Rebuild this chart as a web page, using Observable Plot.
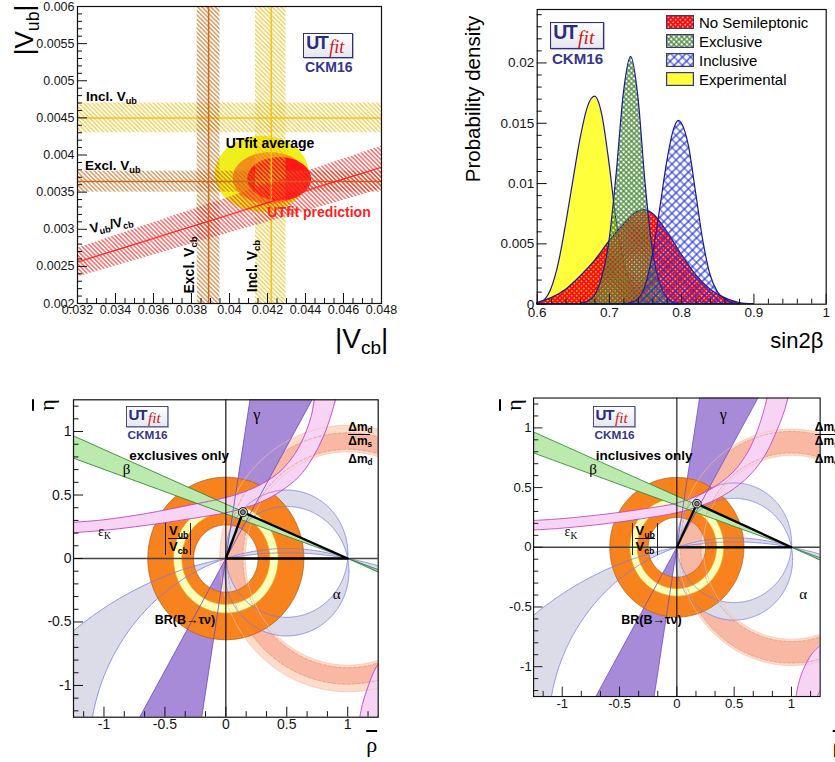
<!DOCTYPE html>
<html><head><meta charset="utf-8">
<script src="https://cdn.jsdelivr.net/npm/d3@7"></script>
<script src="https://cdn.jsdelivr.net/npm/@observablehq/plot@0.6"></script>
<style>
html,body{margin:0;padding:0;background:#fff;}
body{width:835px;height:762px;overflow:hidden;position:relative;font-family:"Liberation Sans",Arial,Helvetica,sans-serif;}
.panel{position:absolute;}
.lbl{position:absolute;white-space:nowrap;line-height:1;}
.sb{font-size:0.68em;position:relative;top:0.32em;}
svg path{fill-rule:evenodd;}
.logo{position:absolute;width:52px;height:44px;transform-origin:0 0;}
.logo .box{position:absolute;left:0;top:0;width:48px;height:23px;border:1.5px solid #2e2e7a;background:linear-gradient(#ffffff,#e6e6ef);box-shadow:1px 1px 0 #b8b8c8;overflow:hidden;}
.logo .ut{position:absolute;left:2px;top:0px;font:bold 18px "Liberation Sans",Arial,sans-serif;color:#2b2b86;letter-spacing:-1.5px;line-height:1;}
.logo .fit{position:absolute;left:25px;top:4px;font:italic 18px "Liberation Serif","DejaVu Serif",serif;color:#d01818;line-height:1;}
.logo .ckm{position:absolute;left:-2px;top:27px;width:55px;text-align:center;font:bold 14px "Liberation Sans",Arial,sans-serif;color:#35358c;line-height:1;}
.frac{position:absolute;font-weight:bold;line-height:1;}
</style></head><body>
<svg width="0" height="0" style="position:absolute;left:0;top:0">
<defs>
<pattern id="hExcl" width="3.1" height="3.1" patternUnits="userSpaceOnUse" patternTransform="rotate(-45)"><line x1="1.55" y1="-1" x2="1.55" y2="4.1" stroke="#d06a16" stroke-width="1"/></pattern>
<pattern id="hIncl" width="3.1" height="3.1" patternUnits="userSpaceOnUse" patternTransform="rotate(-45)"><line x1="1.55" y1="-1" x2="1.55" y2="4.1" stroke="#f3bf16" stroke-width="1"/></pattern>
<pattern id="hRatio" width="3.1" height="3.1" patternUnits="userSpaceOnUse" patternTransform="rotate(-45)"><line x1="1.55" y1="-1" x2="1.55" y2="4.1" stroke="#ff2424" stroke-width="1"/></pattern>
<pattern id="xRed" width="3.4" height="3.4" patternUnits="userSpaceOnUse" patternTransform="rotate(45)"><path d="M0,1.7H3.4M1.7,0V3.4" stroke="#ff0a0a" stroke-width="2"/></pattern>
<pattern id="xGreen" width="3.7" height="3.7" patternUnits="userSpaceOnUse" patternTransform="rotate(45)"><path d="M0,1.85H3.7M1.85,0V3.7" stroke="#4f8d3e" stroke-width="1.3"/></pattern>
<pattern id="xBlue" width="5.8" height="5.8" patternUnits="userSpaceOnUse" patternTransform="rotate(45)"><path d="M0,2.9H5.8M2.9,0V5.8" stroke="#1f2fe0" stroke-width="1.2"/></pattern>
</defs></svg>
<script>
// ================= DATA =================
// --- panel 1 : |Vub| vs |Vcb| ---
const vcbTicks = [0.032,0.034,0.036,0.038,0.04,0.042,0.044,0.046,0.048];
const vcbTickLabels = ["0.032","0.034","0.036","0.038","0.04","0.042","0.044","0.046","0.048"];
const vubTicks = [0.002,0.0025,0.003,0.0035,0.004,0.0045,0.005,0.0055,0.006];
const vubTickLabels = ["0.002","0.0025","0.003","0.0035","0.004","0.0045","0.005","0.0055","0.006"];
const vcbBandNames = ["Excl.","Incl."];
const vcbBandLo  = [0.0383, 0.04137];
const vcbBandMid = [0.0389, 0.0422];
const vcbBandHi  = [0.0395, 0.04298];
const vubBandNames = ["Excl.","Incl."];
const vubBandLo  = [0.0035, 0.0043];
const vubBandMid = [0.003643, 0.0045];
const vubBandHi  = [0.003782, 0.0047];
const vubOverVcb = [0.0737, 0.0799, 0.0858];          // low, central, high
const contourNames = ["average95","average68","prediction"];
const contourCx = [0.0417, 0.04213, 0.04262];
const contourCy = [0.003747, 0.00369, 0.00368];
const contourRx = [0.00247, 0.00196, 0.00168];
const contourRy = [0.000512, 0.000348, 0.000292];

// --- panel 2 : sin2beta ---
const s2bTicks = [0.6,0.7,0.8,0.9,1];
const s2bTickLabels = ["0.6","0.7","0.8","0.9","1"];
const pdfTicks = [0,0.005,0.01,0.015,0.02];
const pdfTickLabels = ["0","0.005","0.01","0.015","0.02"];
const seriesNames = ["No Semileptonic","Exclusive","Inclusive","Experimental"];
const noSemileptonic = [[0.60,0.0001],[0.62,0.0005],[0.64,0.0012],[0.66,0.0023],[0.68,0.0036],[0.70,0.0052],[0.72,0.0066],[0.735,0.0075],[0.747,0.0078],[0.76,0.0075],[0.78,0.0060],[0.80,0.0041],[0.82,0.0024],[0.84,0.0012],[0.86,0.0005],[0.88,0.0001],[0.90,0]];
const exclusiveS2b = [[0.66,0],[0.67,0.0002],[0.68,0.0007],[0.69,0.0022],[0.70,0.0052],[0.71,0.0108],[0.72,0.0175],[0.73,0.0205],[0.74,0.0172],[0.75,0.0100],[0.76,0.0045],[0.77,0.0017],[0.78,0.0005],[0.79,0.0001],[0.80,0]];
const inclusiveS2b = [[0.72,0],[0.73,0.0001],[0.74,0.0004],[0.75,0.0015],[0.76,0.0040],[0.77,0.0078],[0.78,0.0118],[0.79,0.0146],[0.796,0.0152],[0.80,0.0150],[0.81,0.0131],[0.82,0.0092],[0.83,0.0052],[0.84,0.0024],[0.85,0.0010],[0.86,0.0004],[0.87,0.0001],[0.88,0]];
const experimentalS2b = [[0.60,0],[0.61,0.0003],[0.62,0.0013],[0.63,0.0034],[0.64,0.0066],[0.65,0.0102],[0.66,0.0137],[0.67,0.0163],[0.68,0.0172],[0.69,0.0157],[0.70,0.0117],[0.71,0.0068],[0.72,0.0036],[0.73,0.0016],[0.74,0.0006],[0.75,0.0001],[0.76,0]];

// --- panels 3,4 : rho-eta plane ---
const rhoTicks = [-1,-0.5,0,0.5,1];
const rhoTickLabels = ["-1","-0.5","0","0.5","1"];
const etaTicks = [-1,-0.5,0,0.5,1];
const etaTickLabels = ["-1","-0.5","0","0.5","1"];
const gammaDeg = [60.5, 81];                 // edges of the gamma wedge
const betaTan = [0.351, 0.429];              // slopes of the beta wedge from (1,0)
const alphaNarrow = [[0.5,0.038,0.501],[0.5,-0.10,0.51]];     // [cx, cy, r]
const alphaWide = [[0.5,-2.755,2.80],[0.5,-1.542,1.621]];
// exclusive-only fit
const exclApex = [0.14, 0.365];
const exclTauNu = [0.265, 0.64];
const exclVubVcb = [0.36, 0.43];
const exclDmd = [0.84, 1.05];
const exclDms = [0.86, 0.99];
const exclEpsUpper = [[-1.3,0.282],[-1.0,0.305],[-0.65,0.355],[-0.3,0.42],[0,0.48],[0.15,0.525],[0.3,0.59],[0.45,0.69],[0.57,0.83],[0.65,0.98],[0.70,1.12],[0.735,1.3]];
const exclEpsLower = [[-1.3,0.2],[-1.0,0.222],[-0.65,0.262],[-0.3,0.312],[0,0.36],[0.15,0.398],[0.3,0.45],[0.45,0.53],[0.6,0.645],[0.71,0.79],[0.80,0.96],[0.87,1.15],[0.91,1.3]];
const exclEpsRightL = [[1.09,-1.3],[1.12,-1.15],[1.17,-1.0],[1.22,-0.88],[1.3,-0.76]];
const exclEpsRightR = [[1.22,-1.3],[1.3,-1.12]];
// inclusive-only fit
const inclApex = [0.175, 0.365];
const inclTauNu = [0.25, 0.585];
const inclVubVcb = [0.345, 0.41];
const inclDmd = [0.77, 0.99];
const inclDms = [0.79, 0.97];
const inclEpsUpper = [[-1.3,0.222],[-1.0,0.24],[-0.6,0.28],[-0.3,0.32],[0,0.37],[0.2,0.44],[0.35,0.52],[0.5,0.64],[0.62,0.8],[0.7,0.97],[0.76,1.15],[0.8,1.3]];
const inclEpsLower = [[-1.3,0.142],[-1.0,0.16],[-0.6,0.2],[-0.3,0.24],[0,0.29],[0.2,0.345],[0.4,0.43],[0.6,0.57],[0.75,0.74],[0.86,0.95],[0.94,1.15],[0.98,1.3]];
const inclEpsRightL = [[1.03,-1.3],[1.06,-1.15],[1.1,-1.03],[1.18,-0.89],[1.3,-0.78]];
const inclEpsRightR = [[1.2,-1.3],[1.3,-1.1]];

// ================= HELPERS =================
const FONT = "'Liberation Sans', Arial, Helvetica, sans-serif";
const SERIF = "'Liberation Serif','DejaVu Serif',serif";
const GAP = {x: NaN, y: NaN};
function ellipsePts(cx, cy, rx, ry, n = 180) {
  const a = [];
  for (let i = 0; i <= n; i++) { const t = 2 * Math.PI * i / n; a.push({x: cx + rx * Math.cos(t), y: cy + ry * Math.sin(t)}); }
  return a;
}
const circlePts = (cx, cy, r, n = 360) => ellipsePts(cx, cy, r, r, n);
const ringPts = (cx, cy, r1, r2) => [...circlePts(cx, cy, r2), GAP, ...circlePts(cx, cy, r1)];
const pairs = (arr) => arr.map(([x, y]) => ({x, y}));
function minorTicks(a, b, step, majors) {
  const n = Math.round((b - a) / step);
  return d3.range(n + 1).map(k => +(a + k * step).toFixed(7)).filter(v => !majors.some(m => Math.abs(m - v) < step / 10));
}
function tickMarks(xd, yd, fw, fh, xMaj, xMin, yMaj, yMin, L1, L2) {
  const ky = (yd[1] - yd[0]) / fh, kx = (xd[1] - xd[0]) / fw;
  const st = {stroke: "#111", strokeWidth: 1};
  return [
    Plot.ruleX(xMaj, {x: d => d, y1: yd[0], y2: yd[0] + L1 * ky, ...st}),
    Plot.ruleX(xMin, {x: d => d, y1: yd[0], y2: yd[0] + L2 * ky, ...st}),
    Plot.ruleY(yMaj, {y: d => d, x1: xd[0], x2: xd[0] + L1 * kx, ...st}),
    Plot.ruleY(yMin, {y: d => d, x1: xd[0], x2: xd[0] + L2 * kx, ...st})
  ];
}
function tickLabels(xd, yd, xMaj, xLab, yMaj, yLab, size, dy, dx) {
  return [
    Plot.text(xMaj, {x: d => d, y: yd[0], text: (d, i) => xLab[i], lineAnchor: "top", dy, fontSize: size, fill: "#151515"}),
    Plot.text(yMaj, {x: xd[0], y: d => d, text: (d, i) => yLab[i], textAnchor: "end", dx: -dx, fontSize: size, fill: "#151515"})
  ];
}
function place(svg, left, top) {
  const d = document.createElement("div");
  d.className = "panel"; d.style.left = left + "px"; d.style.top = top + "px";
  d.appendChild(svg); document.body.appendChild(d);
}
function lab(html, x, y, o = {}) {
  const d = document.createElement("div");
  d.className = "lbl";
  d.innerHTML = html;
  d.style.left = x + "px"; d.style.top = y + "px";
  d.style.fontSize = (o.size || 13) + "px";
  d.style.fontWeight = o.bold ? "bold" : "normal";
  d.style.color = o.color || "#000";
  d.style.fontFamily = o.font || FONT;
  const ax = o.anchor === "start" ? "0" : o.anchor === "end" ? "-100%" : "-50%";
  const ox = o.anchor === "start" ? "0%" : o.anchor === "end" ? "100%" : "50%";
  d.style.transformOrigin = ox + " 50%";
  d.style.transform = "translate(" + ax + ",-50%)" + (o.rotate ? " rotate(" + o.rotate + "deg)" : "");
  document.body.appendChild(d);
  return d;
}
function logo(x, y, s) {
  const d = document.createElement("div");
  d.className = "logo";
  d.style.left = x + "px"; d.style.top = y + "px"; d.style.transform = "scale(" + s + ")";
  d.innerHTML = '<div class="box"><span class="ut">UT</span><span class="fit">fit</span></div><div class="ckm">CKM16</div>';
  document.body.appendChild(d);
}

// ================= PANEL 1 =================
{
  const xd = [0.032, 0.048], yd = [0.002, 0.006];
  const contourFill = {average95: "#f0ef1c", average68: "#f28e1a", prediction: "#ff1717"};
  const bandStyle = {"Excl.": {hatch: "url(#hExcl)", line: "#cf6a17"}, "Incl.": {hatch: "url(#hIncl)", line: "#f4c21a"}};
  const marks = [];
  contourNames.forEach((n, i) => marks.push(Plot.line(ellipsePts(contourCx[i], contourCy[i], contourRx[i], contourRy[i]), {x: "x", y: "y", fill: contourFill[n], stroke: "none", clip: true})));
  vubBandNames.forEach((n, i) => {
    marks.push(Plot.rect([i], {x1: xd[0], x2: xd[1], y1: vubBandLo[i], y2: vubBandHi[i], fill: bandStyle[n].hatch}));
    marks.push(Plot.ruleY([vubBandMid[i]], {stroke: bandStyle[n].line, strokeWidth: 1.5}));
  });
  vcbBandNames.forEach((n, i) => {
    marks.push(Plot.rect([i], {x1: vcbBandLo[i], x2: vcbBandHi[i], y1: yd[0], y2: yd[1], fill: bandStyle[n].hatch}));
    marks.push(Plot.ruleX([vcbBandMid[i]], {stroke: bandStyle[n].line, strokeWidth: 1.5}));
  });
  marks.push(Plot.areaY(xd, {x: d => d, y1: d => vubOverVcb[0] * d, y2: d => vubOverVcb[2] * d, fill: "url(#hRatio)", clip: true}));
  marks.push(Plot.line(xd, {x: d => d, y: d => vubOverVcb[1] * d, stroke: "#ff2424", strokeWidth: 1.3, clip: true}));
  marks.push(...tickMarks(xd, yd, 304, 297, vcbTicks, minorTicks(0.032, 0.048, 0.0005, vcbTicks), vubTicks, minorTicks(0.002, 0.006, 0.0001, vubTicks), 10, 5));
  marks.push(...tickLabels(xd, yd, vcbTicks, vcbTickLabels, vubTicks, vubTickLabels, 12.5, 2, 3));
  marks.push(Plot.frame({stroke: "#111", strokeWidth: 1.2}));
  const svg = Plot.plot({width: 400, height: 360, marginLeft: 77, marginRight: 19, marginTop: 6, marginBottom: 57,
    x: {domain: xd, axis: null}, y: {domain: yd, axis: null},
    style: {fontFamily: FONT, background: "transparent", overflow: "visible"}, marks});
  place(svg, 0, 0);
}

// ================= PANEL 2 =================
{
  const xd = [0.6, 1.0], yd = [0, 0.02443];
  const st = {x: d => d[0], y: d => d[1], stroke: "#1a1a96", strokeWidth: 1.2, curve: "monotone-x"};
  const marks = [
    Plot.areaY(experimentalS2b, {...st, fill: "#ffff3c"}),
    Plot.areaY(noSemileptonic, {...st, fill: "url(#xRed)"}),
    Plot.areaY(exclusiveS2b, {...st, fill: "url(#xGreen)"}),
    Plot.areaY(inclusiveS2b, {...st, fill: "url(#xBlue)"}),
    ...tickMarks(xd, yd, 289, 294.7, s2bTicks, minorTicks(0.6, 1.0, 0.02, s2bTicks), pdfTicks, minorTicks(0, 0.024, 0.001, pdfTicks), 10, 5),
    ...tickLabels(xd, yd, s2bTicks, s2bTickLabels, pdfTicks, pdfTickLabels, 13.5, 3, 3),
    Plot.frame({stroke: "#111", strokeWidth: 1.2})
  ];
  const svg = Plot.plot({width: 405, height: 360, marginLeft: 106.7, marginRight: 9.3, marginTop: 9, marginBottom: 56.3,
    x: {domain: xd, axis: null}, y: {domain: yd, axis: null},
    style: {fontFamily: FONT, background: "transparent", overflow: "visible"}, marks});
  place(svg, 430, 0);
}

// ================= PANELS 3,4 =================
function utPanel(p) {
  const xd = [-1.25, 1.25], yd = [-1.25, 1.25];
  const R = 2.2, deg = Math.PI / 180;
  const [g1, g2] = gammaDeg.map(g => g * deg);
  const gammaUp = [{x: 0.55 * Math.cos(g1), y: 0.55 * Math.sin(g1)}, {x: R * Math.cos(g1), y: R * Math.sin(g1)}, {x: R * Math.cos(g2), y: R * Math.sin(g2)}, {x: 0.55 * Math.cos(g2), y: 0.55 * Math.sin(g2)}];
  const gammaDown = [{x: 0, y: 0}, {x: -R * Math.cos(g1), y: -R * Math.sin(g1)}, {x: -R * Math.cos(g2), y: -R * Math.sin(g2)}];
  const betaPoly = [{x: 1, y: 0}, {x: -1.5, y: betaTan[0] * 2.5}, {x: -1.5, y: betaTan[1] * 2.5}, {x: 1, y: 0}, {x: 1.5, y: -betaTan[1] * 0.5}, {x: 1.5, y: -betaTan[0] * 0.5}, {x: 1, y: 0}];
  const epsMain = [...pairs(p.epsUpper), ...pairs(p.epsLower).reverse()];
  const epsRight = [...pairs(p.epsRightL), ...pairs(p.epsRightR).reverse()];
  const C = {dmdLight: "#fddcc9", dmsDark: "#f9b8a3", alpha: "#dcdce8", gamma: "#a78bd9", tau: "#f7821e", vub: "#ffffbc", eps: "#f7d4f4", beta: "#bce9ad"};
  const clip = {clip: true};
  const marks = [
    Plot.line(ringPts(1, 0, p.dmd[0], p.dmd[1]), {x: "x", y: "y", fill: C.dmdLight, stroke: "none", ...clip}),
    Plot.line(ringPts(1, 0, p.dms[0], p.dms[1]), {x: "x", y: "y", fill: C.dmsDark, stroke: "none", ...clip}),
    Plot.line([...circlePts(...alphaNarrow[0]), GAP, ...circlePts(...alphaNarrow[1])], {x: "x", y: "y", fill: C.alpha, stroke: "none", ...clip}),
    Plot.line([...circlePts(...alphaWide[0], 1400), GAP, ...circlePts(...alphaWide[1], 900)], {x: "x", y: "y", fill: C.alpha, stroke: "none", ...clip}),
    Plot.line(gammaUp, {x: "x", y: "y", fill: C.gamma, stroke: "none", ...clip}),
    Plot.line(gammaDown, {x: "x", y: "y", fill: C.gamma, stroke: "none", ...clip}),
    Plot.line(ringPts(0, 0, p.tau[0], p.tau[1]), {x: "x", y: "y", fill: C.tau, stroke: "none", ...clip}),
    Plot.line(circlePts(0, 0, p.tau[0]), {x: "x", y: "y", stroke: "#b4601a", strokeWidth: 0.8, ...clip}),
    Plot.line(circlePts(0, 0, p.tau[1]), {x: "x", y: "y", stroke: "#b4601a", strokeWidth: 0.8, ...clip}),
    Plot.line(ringPts(0, 0, p.vub[0], p.vub[1]), {x: "x", y: "y", fill: C.vub, stroke: "none", ...clip}),
    Plot.line(circlePts(0, 0, p.vub[0]), {x: "x", y: "y", stroke: "#f2a400", strokeWidth: 0.9, ...clip}),
    Plot.line(circlePts(0, 0, p.vub[1]), {x: "x", y: "y", stroke: "#f2a400", strokeWidth: 0.9, ...clip}),
    Plot.line(epsMain, {x: "x", y: "y", fill: C.eps, stroke: "none", curve: "catmull-rom", ...clip}),
    Plot.line(epsRight, {x: "x", y: "y", fill: C.eps, stroke: "none", curve: "catmull-rom", ...clip}),
    Plot.line(betaPoly, {x: "x", y: "y", fill: C.beta, stroke: "none", ...clip}),
    // outlines
    ...[...alphaNarrow, ...alphaWide].map(c => Plot.line(circlePts(...c, c[2] > 2 ? 1400 : 600), {x: "x", y: "y", stroke: "#7a7aee", strokeWidth: 0.8, ...clip})),
    ...p.dmd.map(r => Plot.line(circlePts(1, 0, r, 600), {x: "x", y: "y", stroke: "#f6c2ae", strokeWidth: 0.7, ...clip})),
    ...p.dms.map(r => Plot.line(circlePts(1, 0, r, 600), {x: "x", y: "y", stroke: "#e58f7c", strokeWidth: 0.7, strokeDasharray: "3,2", ...clip})),
    ...[g1, g2].map(g => Plot.line([{x: -R * Math.cos(g), y: -R * Math.sin(g)}, {x: R * Math.cos(g), y: R * Math.sin(g)}], {x: "x", y: "y", stroke: "#6a48c4", strokeWidth: 0.8, ...clip})),
    ...[p.epsUpper, p.epsLower, p.epsRightL, p.epsRightR].map(e => Plot.line(pairs(e), {x: "x", y: "y", stroke: "#c63fc6", strokeWidth: 0.9, curve: "catmull-rom", ...clip})),
    ...betaTan.map(t => Plot.line([{x: -1.5, y: t * 2.5}, {x: 1.5, y: -t * 0.5}], {x: "x", y: "y", stroke: "#2f8a2f", strokeWidth: 0.9, ...clip})),
    // axes through origin
    Plot.ruleY([0], {stroke: "#444", strokeWidth: 1.6}),
    Plot.ruleX([0], {stroke: "#000", strokeWidth: 1.1}),
    // triangle
    Plot.line([{x: 0, y: 0}, {x: 1, y: 0}, {x: p.apex[0], y: p.apex[1]}, {x: 0, y: 0}], {x: "x", y: "y", stroke: "#000", strokeWidth: 2.4, strokeLinejoin: "round"}),
    Plot.dot([p.apex], {x: d => d[0], y: d => d[1], r: 4.6, stroke: "#111", fill: "#c8c8c8", strokeWidth: 0.9}),
    Plot.dot([p.apex], {x: d => d[0], y: d => d[1], r: 2.4, stroke: "#111", fill: "#888", strokeWidth: 0.9}),
    ...tickMarks(xd, yd, 304.7, 317.4, rhoTicks, d3.range(-7, 8).filter(k => k % 3 !== 0).map(k => k / 6), etaTicks, minorTicks(-1.2, 1.2, 0.1, etaTicks), 10, 5.5),
    ...tickLabels(xd, yd, rhoTicks, rhoTickLabels, etaTicks, etaTickLabels, 14, 2, 2),
    Plot.frame({stroke: "#111", strokeWidth: 1.2})
  ];
  return Plot.plot({width: p.width, height: 392, marginLeft: p.ml, marginRight: p.mr, marginTop: 29.3, marginBottom: 45.3,
    x: {domain: xd, axis: null}, y: {domain: yd, axis: null},
    style: {fontFamily: FONT, background: "transparent", overflow: "visible"}, marks});
}
place(utPanel({width: 400, ml: 73, mr: 22.3, apex: exclApex, tau: exclTauNu, vub: exclVubVcb, dmd: exclDmd, dms: exclDms,
  epsUpper: exclEpsUpper, epsLower: exclEpsLower, epsRightL: exclEpsRightL, epsRightR: exclEpsRightR}), 0, 370);
place(utPanel({width: 420, ml: 99, mr: 16.3, apex: inclApex, tau: inclTauNu, vub: inclVubVcb, dmd: inclDmd, dms: inclDms,
  epsUpper: inclEpsUpper, epsLower: inclEpsLower, epsRightL: inclEpsRightL, epsRightR: inclEpsRightR}), 440, 370);

// ================= TEXT OVERLAYS =================
// panel 1
lab('|V<span class="sb">ub</span>|', 23.5, 30, {size: 26, rotate: -90});
lab('|V<span class="sb">cb</span>|', 335, 338.6, {size: 28, anchor: "start"});
lab('Incl. V<span class="sb">ub</span>', 86, 96.7, {size: 13.5, bold: true, anchor: "start"});
lab('Excl. V<span class="sb">ub</span>', 85, 165.7, {size: 13.5, bold: true, anchor: "start"});
lab('V<span class="sb">ub</span>/V<span class="sb">cb</span>', 90, 229, {size: 13.5, bold: true, anchor: "start", rotate: -12});
lab('Excl. V<span class="sb">cb</span>', 189.2, 265, {size: 14, bold: true, rotate: -90});
lab('Incl. V<span class="sb">cb</span>', 252, 265.5, {size: 14, bold: true, rotate: -90});
lab('UTfit average', 270, 143, {size: 14, bold: true});
lab('UTfit prediction', 319, 211.7, {size: 14, bold: true, color: "#ff1f1f"});
logo(303.3, 33.3, 1);
// panel 2
lab('Probability density', 473, 99, {size: 20.5, rotate: -90});
lab('sin2β', 823.3, 340.7, {size: 22, anchor: "end"});
logo(550, 22.3, 1.08);
{
  const fills = ["url(#xRed)", "url(#xGreen)", "url(#xBlue)", "#ffff3c"];
  const rowTop = [15, 33.6, 52.7, 71.7];
  seriesNames.forEach((n, i) => {
    const b = document.createElement("div");
    b.style.cssText = "position:absolute;left:666px;top:" + rowTop[i] + "px;width:28px;height:14px;";
    b.innerHTML = '<svg width="28" height="14"><rect x="0.6" y="0.6" width="26.8" height="12.8" fill="' + fills[i] + '" stroke="#3a3a6a" stroke-width="1.2"/></svg>';
    document.body.appendChild(b);
    lab(n, 699, rowTop[i] + 7, {size: 15, anchor: "start"});
  });
}
// panels 3,4
function utLabels(ox, which) {
  logo(126 + ox, 406, 0.845);
  lab('γ', 256.7 + ox, 415, {size: 16, font: SERIF});
  lab('β', 126.7 + ox, 469, {size: 15, font: SERIF});
  lab('ε<span class="sb">K</span>', 98 + ox, 532, {size: 14, anchor: "start", font: SERIF});
  lab('α', 336.7 + ox, 594, {size: 15, font: SERIF});
  lab('Δm<span class="sb">d</span>', 348.3 + ox, 426.7, {size: 12, bold: true, anchor: "start"});
  const bar = document.createElement("div");
  bar.style.cssText = "position:absolute;left:" + (348 + ox) + "px;top:433.5px;width:22px;height:0;border-top:1px solid #000;";
  document.body.appendChild(bar);
  lab('Δm<span class="sb">s</span>', 348.3 + ox, 440.5, {size: 12, bold: true, anchor: "start"});
  lab('Δm<span class="sb">d</span>', 348.3 + ox, 458.5, {size: 12, bold: true, anchor: "start"});
  lab(which, 129.3 + ox, 456, {size: 13.5, bold: true, anchor: "start"});
  const fr = document.createElement("div");
  fr.className = "frac";
  fr.style.cssText = "position:absolute;left:" + (165 + ox) + "px;top:523px;height:32px;border-left:1.2px solid #222;border-right:1.2px solid #222;padding:0 2px;font:bold 13px " + FONT + ";line-height:1;";
  fr.innerHTML = '<div style="border-bottom:1px solid #000;padding:1px 0 1px 1px;">V<span class="sb">ub</span></div><div style="padding:1px 0 0 1px;">V<span class="sb">cb</span></div>';
  document.body.appendChild(fr);
  lab('BR(B→τν)', 185 + ox, 620, {size: 12.5, bold: true});
  lab('<span style="text-decoration:overline">η</span>', 47 + ox, 405, {size: 22, rotate: -90, font: SERIF});
  lab('<span style="text-decoration:overline">ρ</span>', 371.7 + ox, 745, {size: 22, font: SERIF});
}
utLabels(0, "exclusives only");
utLabels(466.5, "inclusives only");
</script>
</body></html>
